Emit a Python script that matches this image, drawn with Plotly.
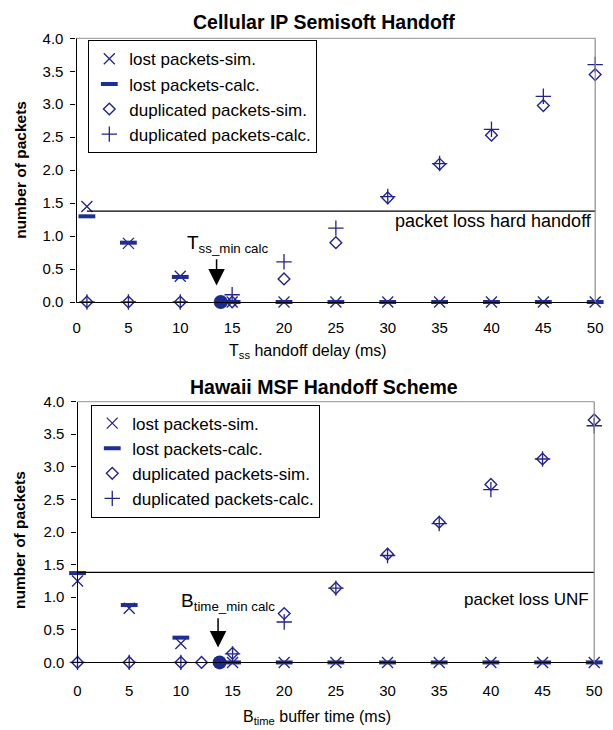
import plotly.graph_objects as go

# ---------------- data ----------------
# Cellular IP semisoft handoff (x = T_ss handoff delay, ms)
cip_x = [1, 5, 10, 15, 20, 25, 30, 35, 40, 45, 50]
cip_lost_sim = [1.45, 0.89, 0.39, 0, 0, 0, 0, 0, 0, 0, 0]
cip_lost_calc = [1.30, 0.90, 0.38, 0, 0, 0, 0, 0, 0, 0, 0]
cip_dup_sim = [0, 0, 0, 0, 0.35, 0.90, 1.58, 2.09, 2.53, 2.98, 3.45]
cip_dup_calc = [0, 0, 0, 0.11, 0.61, 1.12, 1.60, 2.10, 2.62, 3.12, 3.60]
cip_hard_loss = 1.38
cip_hard_loss_x = [1, 50]
cip_tss_min = 13.9

# Hawaii MSF handoff (x = B_time buffer time, ms)
haw_x = [0, 5, 10, 15, 20, 25, 30, 35, 40, 45, 50]
haw_lost_sim = [1.25, 0.83, 0.29, 0, 0, 0, 0, 0, 0, 0, 0]
haw_lost_calc = [1.37, 0.88, 0.38, 0, 0, 0, 0, 0, 0, 0, 0]
haw_dup_sim_x = [0, 5, 10, 12, 15, 20, 25, 30, 35, 40, 45, 50]
haw_dup_sim = [0, 0, 0, 0, 0.14, 0.75, 1.14, 1.66, 2.15, 2.73, 3.12, 3.72]
haw_dup_calc = [0, 0, 0, 0.13, 0.62, 1.14, 1.64, 2.13, 2.65, 3.12, 3.63]
haw_unf_loss = 1.38
haw_unf_loss_x = [0, 50]
haw_btime_min = 13.75

x_ticks = [0, 5, 10, 15, 20, 25, 30, 35, 40, 45, 50]
y_ticks = [0, 0.5, 1.0, 1.5, 2.0, 2.5, 3.0, 3.5, 4.0]

names = ["lost packets-sim.", "lost packets-calc.",
         "duplicated packets-sim.", "duplicated packets-calc."]

# ---------------- styling ----------------
NAVY = "#23238f"
DASH = "#1f2d96"
FONT = "Liberation Sans, Arial, sans-serif"

W, H = 613, 730
def px_x(p):
    return p / W
def px_y(p):
    return 1 - p / H

fig = go.Figure()


def add_panel(xa, ya, legend, x_lost, lost_sim, lost_calc, x_dsim, dup_sim,
              x_dcalc, dup_calc):
    common = dict(xaxis=xa, yaxis=ya, mode="markers", cliponaxis=False,
                  legend=legend)
    fig.add_trace(go.Scatter(
        x=x_lost, y=lost_sim, name=names[0],
        marker=dict(symbol="x-thin-open", size=11, color=NAVY,
                    line=dict(color=NAVY, width=1.3)), **common))
    fig.add_trace(go.Scatter(
        x=x_lost, y=lost_calc, name=names[1],
        marker=dict(symbol="line-ew-open", size=12, color=DASH,
                    line=dict(color=DASH, width=4)), **common))
    fig.add_trace(go.Scatter(
        x=x_dsim, y=dup_sim, name=names[2],
        marker=dict(symbol="diamond-open", size=9, color=NAVY,
                    line=dict(color=NAVY, width=1.4)), **common))
    fig.add_trace(go.Scatter(
        x=x_dcalc, y=dup_calc, name=names[3],
        marker=dict(symbol="cross-thin-open", size=11, color=NAVY,
                    line=dict(color=NAVY, width=1.3)), **common))


add_panel("x", "y", "legend", cip_x, cip_lost_sim, cip_lost_calc,
          cip_x, cip_dup_sim, cip_x, cip_dup_calc)
add_panel("x2", "y2", "legend2", haw_x, haw_lost_sim, haw_lost_calc,
          haw_dup_sim_x, haw_dup_sim, haw_x, haw_dup_calc)

# reference loss levels
fig.add_trace(go.Scatter(x=cip_hard_loss_x, y=[cip_hard_loss] * 2,
                         xaxis="x", yaxis="y", mode="lines",
                         line=dict(color="black", width=1.2),
                         showlegend=False, hoverinfo="skip"))
fig.add_trace(go.Scatter(x=haw_unf_loss_x, y=[haw_unf_loss] * 2,
                         xaxis="x2", yaxis="y2", mode="lines",
                         line=dict(color="black", width=1.2),
                         showlegend=False, hoverinfo="skip"))

# computed minimum delay / buffer time
fig.add_trace(go.Scatter(x=[cip_tss_min], y=[0], xaxis="x", yaxis="y",
                         mode="markers", cliponaxis=False, showlegend=False,
                         marker=dict(symbol="circle", size=14, color="#1b2a8c")))
fig.add_trace(go.Scatter(x=[haw_btime_min], y=[0], xaxis="x2", yaxis="y2",
                         mode="markers", cliponaxis=False, showlegend=False,
                         marker=dict(symbol="circle", size=14, color="#1b2a8c")))

xdom = [px_x(74), px_x(603)]
xdom2 = [px_x(75), px_x(602)]
ydom = [px_y(300), px_y(30)]
ydom2 = [px_y(669), px_y(402)]

xaxis_style = dict(range=[0, 50], tickvals=x_ticks, showgrid=False,
                   zeroline=False, showline=True, linecolor="black",
                   linewidth=1.2, ticks="", ticklabelstandoff=12,
                   tickfont=dict(family=FONT, size=15, color="black"))
yaxis_style = dict(range=[0, 4], tickvals=y_ticks, tickformat=".1f",
                   showgrid=False, zeroline=False, showline=True,
                   linecolor="black", linewidth=1.2, ticks="outside",
                   ticklen=5, tickcolor="black", ticklabelstandoff=4,
                   tickfont=dict(family=FONT, size=15, color="black"))

legend_style = dict(xanchor="left", yanchor="top", bgcolor="white",
                    bordercolor="black", borderwidth=1,
                    font=dict(family=FONT, size=17, color="black"),
                    itemwidth=30, tracegroupgap=0)

fig.update_layout(
    width=W, height=H,
    margin=dict(l=0, r=0, t=0, b=0),
    paper_bgcolor="white", plot_bgcolor="white",
    font=dict(family=FONT, color="black"),
    xaxis=dict(domain=xdom, anchor="y", **xaxis_style),
    yaxis=dict(domain=ydom, anchor="x", **yaxis_style),
    xaxis2=dict(domain=xdom2, anchor="y2", **xaxis_style),
    yaxis2=dict(domain=ydom2, anchor="x2", **yaxis_style),
    legend=dict(x=px_x(86), y=px_y(32), **legend_style),
    legend2=dict(x=px_x(89), y=px_y(405), **legend_style),
    showlegend=True,
)
fig.update_xaxes(selector=dict(anchor="y2"), ticklabelstandoff=14)

# gray frame on top and right of each plot area
for xr, yr in (("x", "y"), ("x2", "y2")):
    fig.add_shape(type="line", xref=f"{xr} domain", yref=f"{yr} domain",
                  x0=0, x1=1, y0=1, y1=1, line=dict(color="#aaa8a4", width=1.2))
    fig.add_shape(type="line", xref=f"{xr} domain", yref=f"{yr} domain",
                  x0=1, x1=1, y0=0, y1=1, line=dict(color="#8c8c8c", width=1.2))


def label(text, x, y, size, **kw):
    d = dict(text=text, xref="paper", yref="paper", x=px_x(x), y=px_y(y),
             xanchor="center", yanchor="middle", showarrow=False,
             font=dict(family=FONT, size=size, color="black"))
    d.update(kw)
    return d


ann = [
    # titles
    label("<b>Cellular IP Semisoft Handoff</b>", 326, 13, 19.5),
    label("<b>Hawaii MSF Handoff Scheme</b>", 326, 387, 19.5),
    # axis titles
    label("T<sub>ss</sub> handoff delay (ms)", 310, 351, 16),
    label("B<sub>time</sub> buffer time (ms)", 319, 725, 16),
    label("<b>number of packets</b>", 16, 165, 15.5, textangle=-90),
    label("<b>number of packets</b>", 16, 544, 15.5, textangle=-90),
]
# reference line labels
ann.append(dict(text="packet loss hard handoff", xref="x", yref="y",
                x=50, y=cip_hard_loss, xanchor="right", yanchor="top",
                xshift=-1, yshift=2, showarrow=False,
                font=dict(family=FONT, size=18, color="black")))
ann.append(dict(text="packet loss UNF", xref="x2", yref="y2",
                x=50, y=haw_unf_loss, xanchor="right", yanchor="top",
                xshift=-3, yshift=-16, showarrow=False,
                font=dict(family=FONT, size=17, color="black")))
# arrows to the computed minima
ann.append(dict(text="", xref="x", yref="y", axref="x", ayref="y",
                x=13.5, y=0.25, ax=13.5, ay=0.67, showarrow=True,
                arrowhead=2, arrowsize=2.2, arrowwidth=1.5,
                arrowcolor="black"))
ann.append(dict(text="", xref="x2", yref="y2", axref="x2", ayref="y2",
                x=13.6, y=0.23, ax=13.6, ay=0.70, showarrow=True,
                arrowhead=2, arrowsize=2.2, arrowwidth=1.5,
                arrowcolor="black"))
ann.append(dict(text="T<sub>ss_min calc</sub>", xref="x", yref="y",
                x=14.6, y=0.88, xanchor="center", yanchor="middle",
                showarrow=False,
                font=dict(family=FONT, size=19, color="black")))
ann.append(dict(text="B<sub>time_min calc</sub>", xref="x2", yref="y2",
                x=14.6, y=0.93, xanchor="center", yanchor="middle",
                showarrow=False,
                font=dict(family=FONT, size=19, color="black")))

fig.update_layout(annotations=ann)

fig.write_html("out.html")
